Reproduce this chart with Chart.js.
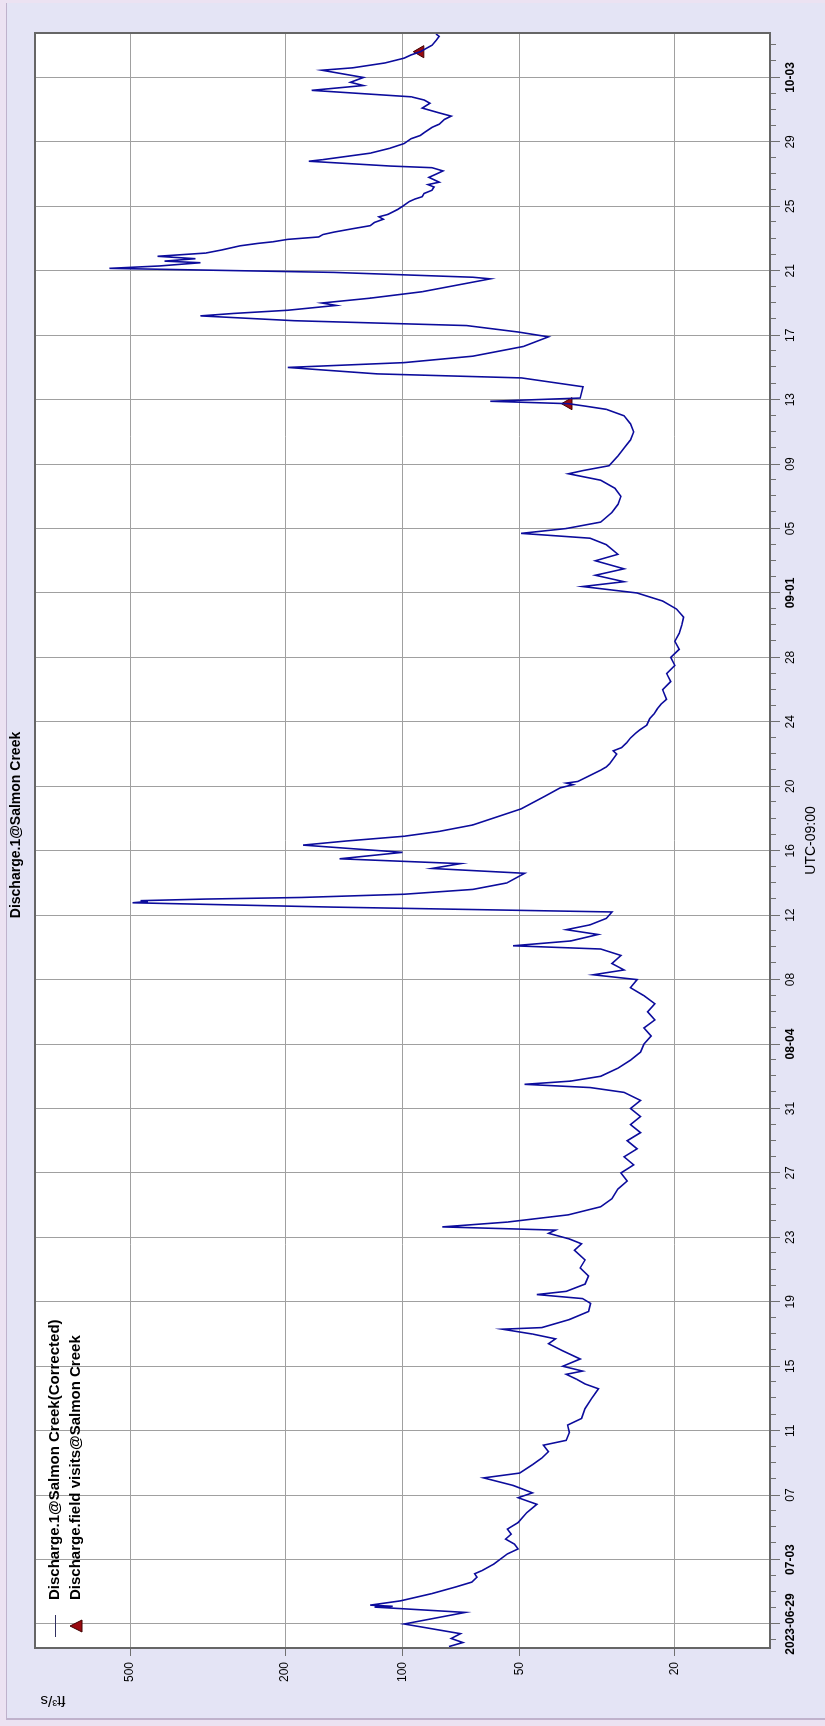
<!DOCTYPE html>
<html>
<head>
<meta charset="utf-8">
<script src="https://cdn.jsdelivr.net/npm/chart.js@4/dist/chart.umd.min.js"></script>
<style>
  html, body { margin: 0; padding: 0; width: 825px; height: 1726px; overflow: hidden; background: #ECE2F2; }
  #sheet { position: absolute; left: 6px; top: 3px; width: 819px; height: 1717px; background: #E4E4F5;
           border-left: 1px solid #BFB2CC; border-bottom: 2px solid #BFB2CC; box-sizing: border-box; }
  /* the chart is laid out landscape and turned a quarter turn counter-clockwise */
  #frame { position: absolute; left: 0; top: 0; width: 1726px; height: 825px;
           transform-origin: 0 0; transform: translate(0, 1726px) rotate(-90deg); }
  canvas { display: block; }
</style>
</head>
<body>
<div id="sheet"></div>
<div id="frame"><canvas id="chart" width="1726" height="825"></canvas></div>
<script>
// Discharge record, days counted from 2023-06-29 00:00 (UTC-09:00)
const flowDays = [
  -1.40, -1.15, -0.90, -0.60, 0.00, 0.72, 1.05, 1.10, 1.17, 1.44, 1.89, 2.30, 2.60, 2.91, 3.12, 3.32, 3.73,
  4.35, 4.66, 4.96, 5.27, 5.58, 5.89, 6.30, 6.91, 7.43, 7.84, 8.14, 8.60, 9.07, 9.37, 9.89, 10.30, 10.70,
  11.10, 11.40, 11.90, 12.35, 12.76, 13.37, 14.00, 14.60, 14.90, 15.20, 15.50, 15.70, 16.00, 16.45, 16.96,
  17.40, 17.70, 18.00, 18.30, 18.40, 18.90, 19.40, 19.90, 20.20, 20.45, 20.65, 21.10, 21.60, 22.10, 22.60,
  23.20, 23.60, 23.90, 24.25, 24.45, 24.65, 24.95, 25.40, 25.90, 26.40, 27.00, 27.50, 28.00, 28.50, 29.00,
  29.50, 30.00, 30.50, 31.00, 31.50, 32.00, 32.50, 33.00, 33.30, 33.50, 33.70, 34.00, 34.50, 35.00, 35.50,
  36.00, 36.50, 37.00, 37.50, 38.00, 38.50, 39.00, 39.50, 40.00, 40.30, 40.60, 41.00, 41.50, 41.90, 42.10,
  42.40, 42.80, 43.10, 43.40, 43.80, 44.20, 44.50, 44.77, 44.85, 44.90, 45.00, 45.10, 45.30, 45.60, 46.00,
  46.60, 46.90, 47.20, 47.50, 47.90, 48.35, 48.60, 48.90, 49.20, 49.60, 50.60, 51.40, 51.90, 52.10, 52.20,
  52.30, 52.60, 53.00, 53.20, 53.40, 53.80, 54.00, 54.20, 54.40, 54.70, 55.00, 55.30, 55.50, 55.80, 56.20,
  56.50, 56.80, 57.10, 57.40, 58.00, 58.50, 59.00, 59.50, 60.00, 60.50, 61.00, 61.50, 62.00, 62.50, 63.00,
  63.50, 64.00, 64.40, 64.70, 65.10, 65.50, 66.00, 66.40, 67.00, 67.40, 67.70, 68.00, 68.40, 69.00, 69.50,
  70.00, 70.50, 71.00, 71.40, 71.60, 71.90, 72.50, 73.00, 73.50, 74.00, 74.50, 75.00, 75.40, 75.60, 75.75,
  75.90, 76.10, 76.80, 77.35, 77.60, 78.00, 78.30, 78.70, 79.30, 79.90, 80.20, 80.60, 80.90, 81.20, 81.35,
  81.55, 81.85, 82.00, 82.30, 82.70, 83.50, 83.60, 83.90, 84.15, 84.30, 84.50, 84.60, 84.75, 84.90, 85.10,
  85.30, 85.55, 85.70, 85.80, 85.95, 86.10, 86.25, 86.40, 86.60, 86.80, 87.00, 87.20, 87.35, 87.50, 87.80,
  88.00, 88.30, 88.45, 88.60, 88.80, 89.00, 89.20, 89.35, 89.50, 89.80, 90.00, 90.20, 90.40, 90.50, 90.80,
  90.90, 91.30, 91.60, 91.90, 92.20, 92.40, 92.60, 92.90, 93.10, 93.40, 93.60, 93.80, 94.10, 94.40, 94.60,
  94.80, 95.20, 95.50, 95.70, 96.00, 96.45, 96.60, 96.90, 97.20, 97.40, 97.60, 97.80, 98.00, 98.30, 98.55,
  98.70
];
const flowValues = [
  76, 70, 75, 71, 99, 69, 118, 106, 121, 101, 84, 73, 66.4, 64.4, 65.3, 62.5, 58.2,
  53.8, 50.5, 51.6, 54.4, 52.6, 53.8, 50.5, 48, 45.2, 50.5, 46.4, 52, 61.9, 50, 46.4, 43.9, 42.2,
  43.5, 38, 37.3, 37.7, 34.7, 34, 32.7, 31.4, 34, 35.8, 38, 34.5, 38.8, 35, 38.8,
  42.2, 40.5, 46.4, 55.4, 43.9, 37.3, 33.3, 32.9, 34.5, 45.2, 38, 34, 33.3, 35, 34,
  36.2, 34.7, 37.3, 42.2, 40.5, 79, 53.8, 37.5, 31, 29, 28, 26.5, 27.5, 25.5, 27,
  25, 26.5, 24.5, 26, 24.5, 26, 24.5, 27, 33, 48.6, 37, 31, 28, 26, 24.5,
  24, 23, 24, 22.5, 23.5, 22.5, 24, 26, 25, 32.4, 27, 29, 27.5, 31, 52,
  37, 31.5, 38, 33, 30, 29, 150, 493, 450, 470, 320, 181, 99, 66, 54,
  48.6, 84, 71, 145, 100, 180, 140, 99, 80.5, 66, 49.6, 43, 39.4, 36.5, 38,
  35.5, 33.5, 31, 30, 29.4, 28.6, 28.2, 28.8, 27.4, 26.6, 26, 25.2, 24.6, 23.6, 23.2,
  22.6, 22.2, 21.7, 21, 21.5, 20.5, 21, 20, 20.5, 19.5, 20, 19.5, 19.2, 19, 19.8,
  21.5, 25, 34.5, 27, 32, 27, 32, 28, 30, 33, 49.6, 38, 31, 29, 28,
  27.5, 28.5, 31, 37.5, 34.4, 29.5, 28, 27, 26, 25.5, 26, 27, 30, 34, 37.5,
  59.5, 35, 34.4, 49.5, 116, 197, 99, 66, 49, 42.2, 50.5, 68.5, 189, 330, 272,
  197, 148, 161, 121, 89, 59.5, 66, 150, 565, 420, 330, 408, 340, 425, 320,
  290, 261, 235, 215, 197, 164, 160, 150, 135, 121, 118, 112, 115, 109, 103,
  100, 96, 93, 89, 88, 84, 83, 86, 80.5, 85.5, 82, 78.7, 84, 107, 174,
  160, 121, 108, 99, 95, 90, 87.7, 84, 80.5, 78, 75, 80.5, 89, 85, 88,
  95, 171, 126, 136, 126, 161, 134, 111, 99, 95, 90, 87, 84, 82, 80.5,
  82
];

// Field visits
const visitDays = [75.75, 97.6];
const visitValues = [37.5, 90];

// Axis ticks
const valueTicks = [500, 200, 100, 50, 20];
const dateTickDays = [0, 4, 8, 12, 16, 20, 24, 28, 32, 36, 40, 44, 48, 52, 56, 60, 64, 68, 72, 76, 80, 84, 88, 92, 96];
const dateTickLabels = ['2023-06-29', '07-03', '07', '11', '15', '19', '23', '27', '31', '08-04', '08', '12', '16',
  '20', '24', '28', '09-01', '05', '09', '13', '17', '21', '25', '29', '10-03'];

const dayRange = [-1.49, 98.76];
const valueRange = [11.4, 877];

const chartTitle = 'Discharge.1@Salmon Creek';
const unitLabel = 'ft³/s';

const FONT = 'Arial, "Liberation Sans", sans-serif';
const LINE_BLUE = '#0C0C9C';
const VISIT_RED = '#9A0A10';

const decorations = {
  id: 'decorations',
  beforeDraw(chart) {
    const { ctx, chartArea: a } = chart;
    ctx.save();
    ctx.fillStyle = '#FFFFFF';
    ctx.fillRect(a.left, a.top, a.right - a.left, a.bottom - a.top);
    ctx.restore();
  },
  afterDraw(chart) {
    const { ctx, chartArea: a, scales } = chart;
    const xs = scales.x;
    ctx.save();
    // daily minor tick marks under the time axis
    ctx.strokeStyle = '#707070';
    ctx.lineWidth = 1;
    ctx.beginPath();
    for (let d = Math.ceil(dayRange[0]); d <= dayRange[1]; d++) {
      if (dateTickDays.includes(d)) continue;
      const px = Math.round(xs.getPixelForValue(d)) + 0.5;
      ctx.moveTo(px, a.bottom);
      ctx.lineTo(px, a.bottom + 6);
    }
    ctx.stroke();

    // plot frame
    ctx.strokeStyle = '#666666';
    ctx.lineWidth = 2;
    ctx.strokeRect(a.left, a.top, a.right - a.left, a.bottom - a.top);

    // chart title
    ctx.fillStyle = '#000';
    ctx.font = 'bold 14px ' + FONT;
    ctx.textAlign = 'center';
    ctx.textBaseline = 'middle';
    ctx.fillText(chartTitle, 901, 16);

    // unit label, upright along the value axis
    ctx.font = '15px ' + FONT;
    ctx.translate(26, 53);
    ctx.rotate(-Math.PI / 2);
    ctx.fillText(unitLabel, 0, 0);
    ctx.setTransform(1, 0, 0, 1, 0, 0);

    // legend inside the plot
    const lx = a.left + 11, ly = a.top + 20, row = 21;
    chart.data.datasets.forEach((ds, i) => {
      const y = ly + i * row;
      if (ds.showLine === false) {
        ctx.beginPath();
        ctx.moveTo(lx + 11, y - 6);
        ctx.lineTo(lx + 17, y + 6);
        ctx.lineTo(lx + 5, y + 6);
        ctx.closePath();
        ctx.fillStyle = VISIT_RED;
        ctx.fill();
        ctx.strokeStyle = '#400000';
        ctx.lineWidth = 1;
        ctx.stroke();
      } else {
        ctx.strokeStyle = '#303060';
        ctx.lineWidth = 1;
        ctx.beginPath();
        ctx.moveTo(lx, y + 0.5);
        ctx.lineTo(lx + 22, y + 0.5);
        ctx.stroke();
      }
      ctx.fillStyle = '#000';
      ctx.font = 'bold 15px ' + FONT;
      ctx.textAlign = 'left';
      ctx.textBaseline = 'middle';
      ctx.fillText(ds.label, lx + 37, y);
    });
    ctx.restore();
  }
};

const flowPoints = flowDays.map((d, i) => ({ x: d, y: flowValues[i] }));
const visitPoints = visitDays.map((d, i) => ({ x: d, y: visitValues[i] }));

new Chart(document.getElementById('chart'), {
  type: 'line',
  data: {
    datasets: [
      {
        label: 'Discharge.1@Salmon Creek(Corrected)',
        data: flowPoints,
        borderColor: LINE_BLUE,
        borderWidth: 1.6,
        pointRadius: 0,
        tension: 0,
        fill: false
      },
      {
        label: 'Discharge.field visits@Salmon Creek',
        data: visitPoints,
        showLine: false,
        pointStyle: 'triangle',
        pointRadius: 7,
        pointBackgroundColor: VISIT_RED,
        pointBorderColor: '#400000',
        pointBorderWidth: 1
      }
    ]
  },
  options: {
    responsive: false,
    animation: false,
    devicePixelRatio: 1,
    layout: { padding: { top: 35, right: 33, bottom: 0, left: 0 } },
    plugins: {
      legend: { display: false },
      tooltip: { enabled: false },
      title: { display: false }
    },
    scales: {
      x: {
        type: 'linear',
        min: dayRange[0],
        max: dayRange[1],
        afterBuildTicks: (s) => { s.ticks = dateTickDays.map((v) => ({ value: v })); },
        afterFit: (s) => { s.height = 55; },
        grid: { color: '#A0A0A0', lineWidth: 1, tickLength: 10, tickColor: '#707070' },
        border: { display: false },
        ticks: {
          autoSkip: false,
          maxRotation: 0,
          minRotation: 0,
          padding: 3,
          color: '#000',
          font: (c) => {
            const lbl = dateTickLabels[dateTickDays.indexOf(c.tick ? c.tick.value : -99)] || '';
            return { family: FONT, size: 12, weight: lbl.includes('-') ? 'bold' : 'normal' };
          },
          callback: (v) => dateTickLabels[dateTickDays.indexOf(v)]
        },
        title: {
          display: true,
          text: 'UTC-09:00',
          color: '#000',
          font: { family: FONT, size: 14 },
          padding: { top: 0, bottom: 5 }
        }
      },
      y: {
        type: 'logarithmic',
        min: valueRange[0],
        max: valueRange[1],
        afterBuildTicks: (s) => { s.ticks = valueTicks.map((v) => ({ value: v })); },
        afterFit: (s) => { s.width = 78; },
        grid: { color: '#A0A0A0', lineWidth: 1, tickLength: 8, tickColor: '#707070' },
        border: { display: false },
        ticks: {
          padding: 6,
          color: '#000',
          font: { family: FONT, size: 12 },
          callback: (v) => String(v)
        }
      }
    }
  },
  plugins: [decorations]
});
</script>
</body>
</html>
